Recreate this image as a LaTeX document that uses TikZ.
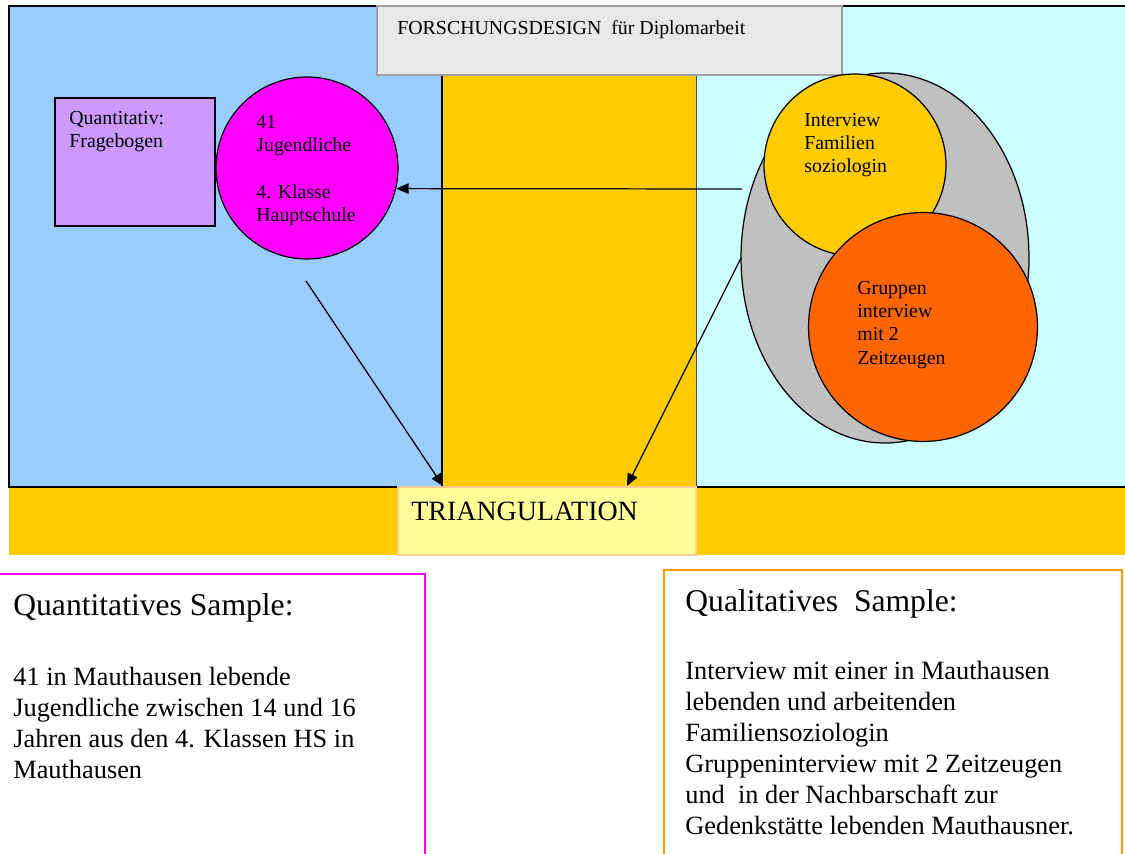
\documentclass[tikz,border=0pt]{standalone}
\usepackage{fontspec}
\setmainfont{Liberation Serif}
\usetikzlibrary{arrows.meta}

\definecolor{qblue}{HTML}{99CCFF}
\definecolor{qcyan}{HTML}{CCFFFF}
\definecolor{qyellow}{HTML}{FFCC00}
\definecolor{qgray}{HTML}{E8E8E8}
\definecolor{qline}{HTML}{A0A0A0}
\definecolor{qlilac}{HTML}{CC99FF}
\definecolor{qmagenta}{HTML}{FF00FF}
\definecolor{qorange}{HTML}{FF6600}
\definecolor{qlight}{HTML}{FFFF99}
\definecolor{qpeach}{HTML}{FFCC99}
\definecolor{qframe}{HTML}{FF9900}
\definecolor{qsilver}{HTML}{C0C0C0}

\tikzset{
  smalltxt/.style={anchor=north west, inner sep=0pt, align=left, font=\fontsize{11.3}{13.2}\selectfont},
  bodytxt/.style={anchor=north west, inner sep=0pt, align=left, font=\fontsize{15}{17.6}\selectfont},
  headtxt/.style={anchor=north west, inner sep=0pt, font=\fontsize{18}{21}\selectfont},
  bubble/.style={circle, draw, line width=0.7pt, inner sep=0pt},
  arr/.style={-{Triangle[length=7pt,width=6pt]}, line width=0.7pt}
}

\begin{document}
\begin{tikzpicture}[x=0.02cm, y=-0.02cm]

    \def\page{(0,0) rectangle (1125,854)}
    \def\bluearea{(9,6) rectangle (442,487)}
    \def\cyanarea{(696,6) rectangle (1130,487)}
    \def\middlearea{(442,6) rectangle (696,487)}
    \def\band{(9,487) rectangle (1130,555)}

    \clip \page;
    \fill[white] \page;

    %Color stuff:
    \fill[qblue] \bluearea;
    \fill[qcyan] \cyanarea;
    \fill[qyellow] \middlearea;
    \draw[line width=0.6pt] (9,6) rectangle (1130,487);
    \draw[line width=0.6pt] (442,6) -- (442,487);
    \draw[line width=0.4pt, black!70] (696,6) -- (696,487);
    \fill[qyellow] \band;
    \draw[line width=1.2pt] (9,487) -- (1130,487);

    %title and triangulation:
    \draw[qline, fill=qgray, line width=0.9pt] (377,6) rectangle (842,75);
    \node[smalltxt] (title) at (397,20) {FORSCHUNGSDESIGN\ \ für Diplomarbeit};
    \draw[qpeach, fill=qlight, line width=0.8pt] (398,487) rectangle (696,555);
    \node[anchor=north west, inner sep=0pt, font=\fontsize{15.9}{19}\selectfont] (triang) at (411,502) {TRIANGULATION};

    %quantitative side:
    \draw[fill=qlilac, line width=0.7pt] (55,98) rectangle (215,226);
    \node[smalltxt] (frage) at (69,111) {Quantitativ:\\Fragebogen};
    \node[bubble, fill=qmagenta, minimum size=3.64cm] (jugend) at (307,168) {};
    \node[smalltxt] (jugendtxt) at (256,115) {41\\Jugendliche\\[13.2pt]4. Klasse\\Hauptschule};

    %qualitative side:
    \draw[fill=qsilver, line width=0.7pt] (885,258) ellipse (144 and 185);
    \node[bubble, fill=qyellow, minimum size=3.64cm] (soz) at (855,165) {};
    \node[smalltxt] (soztxt) at (804,113) {Interview\\Familien\\soziologin};
    \node[bubble, fill=qorange, minimum size=4.58cm] (gruppe) at (923,327) {};
    \node[smalltxt] (gruppetxt) at (857,281) {Gruppen\\interview\\mit 2\\Zeitzeugen};

    %arrows:
    \coordinate (qualstart) at (742,189);
    \coordinate (gruppestart) at (741,258);
    \coordinate (jugendstart) at (306,281);
    \coordinate (triangleft) at (443,486);
    \coordinate (triangright) at (627,486);
    \draw[arr] (qualstart) -- (jugend.-13);
    \draw[arr] (jugendstart) -- (triangleft);
    \draw[arr] (gruppestart) -- (triangright);

    %samples:
    \draw[qmagenta, line width=0.9pt] (-5,574) rectangle (425,870);
    \node[headtxt] (quanthead) at (13,593) {Quantitatives Sample:};
    \node[bodytxt] (quantbody) at (13,667) {41 in Mauthausen lebende\\Jugendliche zwischen 14 und 16\\Jahren aus den 4. Klassen HS in\\Mauthausen};
    \draw[qframe, line width=0.9pt] (664,570) rectangle (1122,870);
    \node[headtxt] (qualhead) at (685,589) {Qualitatives\ \ Sample:};
    \node[bodytxt] (qualbody) at (685,661) {Interview mit einer in Mauthausen\\lebenden und arbeitenden\\Familiensoziologin\\Gruppeninterview mit 2 Zeitzeugen\\und\ \ in der Nachbarschaft zur\\Gedenkstätte lebenden Mauthausner.};

\end{tikzpicture}
\end{document}
